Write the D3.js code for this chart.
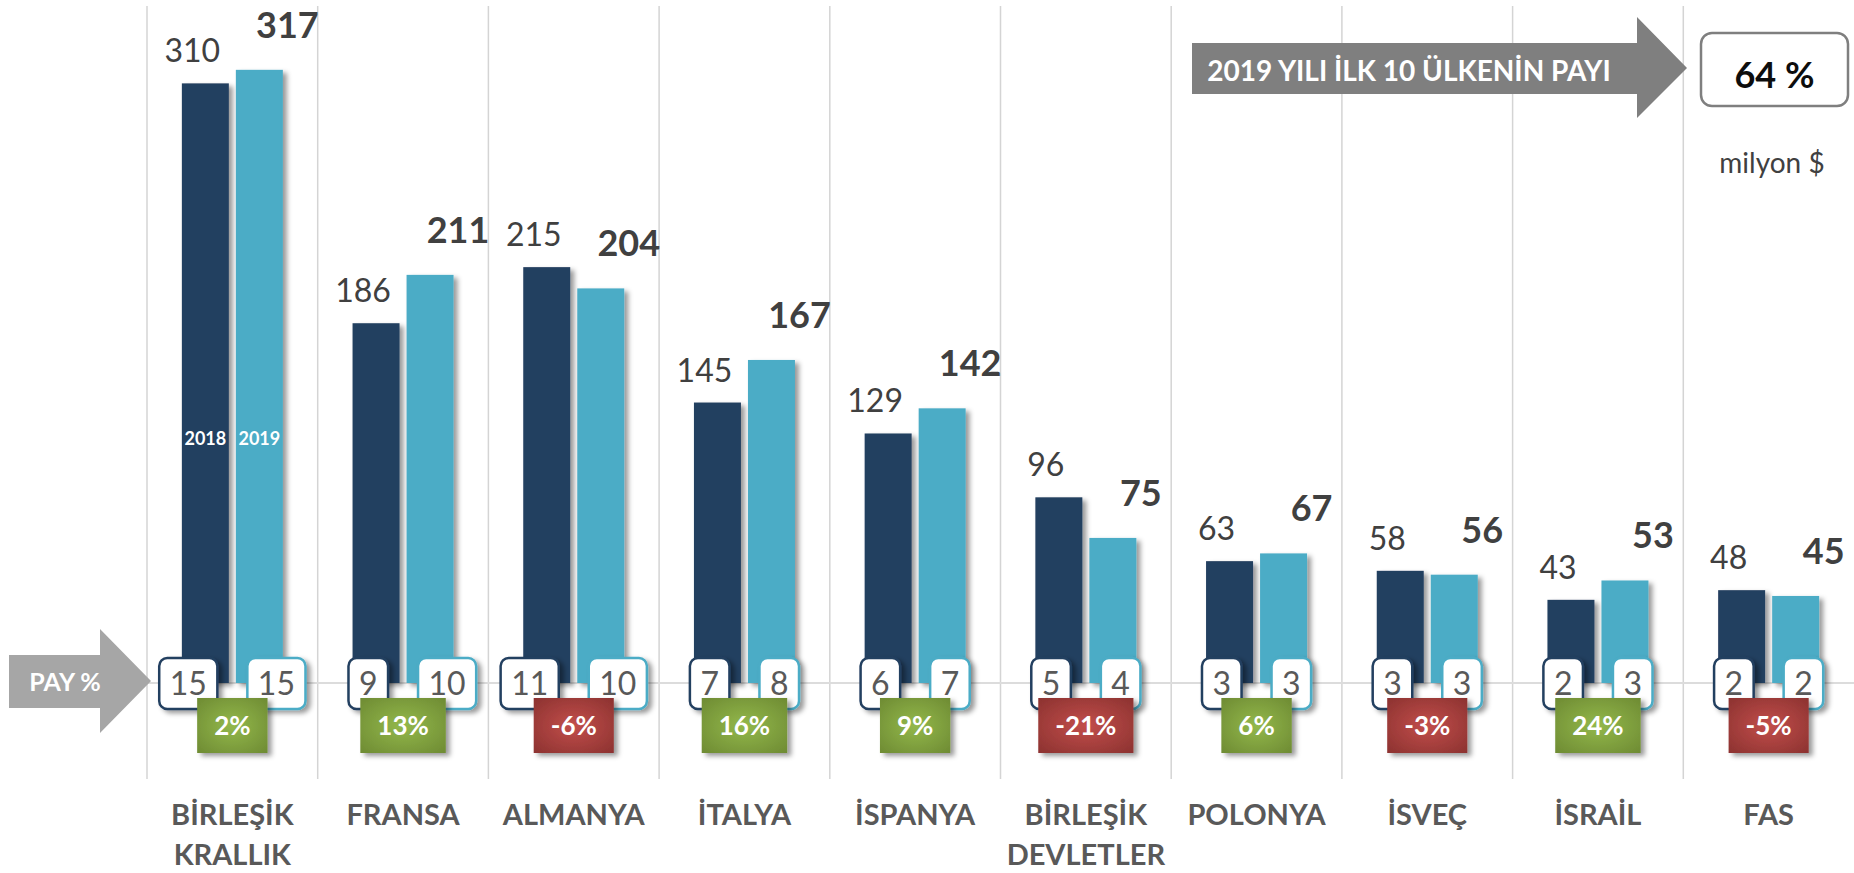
<!DOCTYPE html>
<html>
<head>
<meta charset="utf-8">
<script src="https://cdnjs.cloudflare.com/ajax/libs/d3/7.8.5/d3.min.js"></script>
<style>
body { margin: 0; background: #fff; }
svg text { font-family: Lato, "Open Sans", sans-serif; }
</style>
</head>
<body>
<div class="chart-output"></div>
<script>
// data (milyon $)
var countries = ["BİRLEŞİK\nKRALLIK", "FRANSA", "ALMANYA", "İTALYA", "İSPANYA",
                 "BİRLEŞİK\nDEVLETLER", "POLONYA", "İSVEÇ", "İSRAİL", "FAS"];
var years = ["2018", "2019"];
var values2018 = [310, 186, 215, 145, 129, 96, 63, 58, 43, 48];
var values2019 = [317, 211, 204, 167, 142, 75, 67, 56, 53, 45];
var share2018 = [15, 9, 11, 7, 6, 5, 3, 3, 2, 2];
var share2019 = [15, 10, 10, 8, 7, 4, 3, 3, 3, 2];
var change = [2, 13, -6, 16, 9, -21, 6, -3, 24, -5];
var top10Share = 64;
var titleText = "2019 YILI İLK 10 ÜLKENİN PAYI";
var shareLabel = "PAY %";
var unitLabel = "milyon $";

var colors = { "2018": "#243f60", "2019": "#4bacc6" };

var w = 1854;
var h = 873;

var rows = countries.map(function(c, i) {
    return { country: c, i: i, "2018": values2018[i], "2019": values2019[i],
             s2018: share2018[i], s2019: share2019[i], change: change[i] };
});

var svg = d3.select(".chart-output")
            .append("svg")
            .attr("width", w)
            .attr("height", h);

var defs = svg.append("defs");
var f = defs.append("filter").attr("id", "shadow")
    .attr("x", "-30%").attr("y", "-30%").attr("width", "160%").attr("height", "160%");
f.append("feDropShadow").attr("dx", 4).attr("dy", 3).attr("stdDeviation", 2.5)
    .attr("flood-color", "#000").attr("flood-opacity", 0.4);

function radial(id, inner, outer) {
    var g = defs.append("radialGradient").attr("id", id)
        .attr("cx", "50%").attr("cy", "50%").attr("r", "70%");
    g.append("stop").attr("offset", "0%").attr("stop-color", inner);
    g.append("stop").attr("offset", "100%").attr("stop-color", outer);
}
radial("green", "#93b84b", "#6e8b33");
radial("red", "#c24e4b", "#8c3230");

var x = d3.scaleBand().domain(countries).range([147, 1854]);
var xi = d3.scaleBand().domain(years).range([-50.5, 50.5]).paddingInner(0.13);
var y = d3.scaleLinear().domain([0, 350]).range([683, 6]);

function cx(d) { return x(d.country) + x.bandwidth() / 2; }

// vertical separators
svg.selectAll("line.grid")
    .data(countries)
    .enter()
    .append("line")
    .attr("class", "grid")
    .attr("x1", function(d) { return x(d); })
    .attr("x2", function(d) { return x(d); })
    .attr("y1", 6)
    .attr("y2", 779)
    .attr("stroke", "#d4d4d4")
    .attr("stroke-width", 1.5);

// baseline
svg.append("line")
    .attr("x1", 147).attr("x2", w)
    .attr("y1", y(0)).attr("y2", y(0))
    .attr("stroke", "#dcdcdc").attr("stroke-width", 2);

// bars
years.forEach(function(yr) {
    svg.selectAll("rect.bar" + yr)
        .data(rows)
        .enter()
        .append("rect")
        .attr("class", "bar" + yr)
        .attr("x", function(d) { return cx(d) + xi(yr); })
        .attr("y", function(d) { return y(d[yr]); })
        .attr("width", xi.bandwidth())
        .attr("height", function(d) { return y(0) - y(d[yr]); })
        .attr("fill", colors[yr])
        .attr("filter", "url(#shadow)");
});

// year names inside the first pair of bars
svg.selectAll("text.yr")
    .data(years)
    .enter()
    .append("text")
    .attr("x", function(d) { return cx(rows[0]) + xi(d) + xi.bandwidth() / 2; })
    .attr("y", 445)
    .attr("text-anchor", "middle")
    .attr("fill", "#fff")
    .attr("font-weight", "bold")
    .attr("font-size", 18)
    .text(function(d) { return d; });

// value labels
svg.selectAll("text.v2018")
    .data(rows)
    .enter()
    .append("text")
    .attr("x", function(d) { return cx(d) - 40; })
    .attr("y", function(d) { return y(d["2018"]) - 21; })
    .attr("text-anchor", "middle")
    .attr("fill", "#404040")
    .attr("font-size", 32)
    .text(function(d) { return d["2018"]; });

svg.selectAll("text.v2019")
    .data(rows)
    .enter()
    .append("text")
    .attr("x", function(d) { return cx(d) + 55; })
    .attr("y", function(d) { return y(d["2019"]) - 32; })
    .attr("text-anchor", "middle")
    .attr("fill", "#404040")
    .attr("font-weight", "bold")
    .attr("font-size", 36)
    .text(function(d) { return d["2019"]; });

// share boxes on the baseline
function shareBox(d, val, stroke, left) {
    var g = svg.append("g");
    var t = g.append("text")
        .attr("y", y(0) + 12)
        .attr("text-anchor", "middle")
        .attr("fill", "#595959")
        .attr("font-size", 32)
        .text(val);
    var bw = t.node().getComputedTextLength() + 21;
    var x0 = left ? cx(d) - 15 - bw : cx(d) + 15;
    t.attr("x", x0 + bw / 2);
    g.insert("rect", "text")
        .attr("x", x0).attr("y", 658)
        .attr("width", bw).attr("height", 51)
        .attr("rx", 8)
        .attr("fill", "#fff")
        .attr("stroke", stroke)
        .attr("stroke-width", 2.5)
        .attr("filter", "url(#shadow)");
}
rows.forEach(function(d) {
    shareBox(d, d.s2018, colors["2018"], true);
    shareBox(d, d.s2019, colors["2019"], false);
});

// change boxes
rows.forEach(function(d) {
    var g = svg.append("g");
    var t = g.append("text")
        .attr("x", cx(d))
        .attr("y", 735)
        .attr("text-anchor", "middle")
        .attr("fill", "#fff")
        .attr("font-weight", "bold")
        .attr("font-size", 26)
        .text(d.change + "%");
    var bw = t.node().getComputedTextLength() + 34;
    g.insert("rect", "text")
        .attr("x", cx(d) - bw / 2).attr("y", 698)
        .attr("width", bw).attr("height", 55)
        .attr("fill", d.change >= 0 ? "url(#green)" : "url(#red)")
        .attr("filter", "url(#shadow)");
});

// category names
svg.selectAll("text.cat")
    .data(rows)
    .enter()
    .append("text")
    .attr("text-anchor", "middle")
    .attr("fill", "#595959")
    .attr("font-weight", "bold")
    .attr("font-size", 29)
    .each(function(d) {
        var el = d3.select(this);
        d.country.split("\n").forEach(function(line, k) {
            el.append("tspan")
                .attr("x", cx(d))
                .attr("y", 825 + k * 40)
                .text(line);
        });
    });

// PAY % arrow
svg.append("path")
    .attr("d", "M9,655 H100 V629 L151,681 L100,733 V708 H9 Z")
    .attr("fill", "#a6a6a6");
svg.append("text")
    .attr("x", 65).attr("y", 691)
    .attr("text-anchor", "middle")
    .attr("fill", "#fff")
    .attr("font-weight", "bold")
    .attr("font-size", 25)
    .text(shareLabel);

// title arrow
svg.append("path")
    .attr("d", "M1192,43 H1637 V17 L1687,68 L1637,118 V94 H1192 Z")
    .attr("fill", "#7f7f7f");
svg.append("text")
    .attr("x", 1409).attr("y", 81)
    .attr("text-anchor", "middle")
    .attr("fill", "#fff")
    .attr("font-weight", "bold")
    .attr("font-size", 28)
    .text(titleText);

svg.append("rect")
    .attr("x", 1701).attr("y", 33)
    .attr("width", 147).attr("height", 73)
    .attr("rx", 11)
    .attr("fill", "#fff")
    .attr("stroke", "#7f7f7f")
    .attr("stroke-width", 2.5);
svg.append("text")
    .attr("x", 1774.5).attr("y", 88)
    .attr("text-anchor", "middle")
    .attr("fill", "#0d0d0d")
    .attr("font-weight", "bold")
    .attr("font-size", 36)
    .text(top10Share + " %");

svg.append("text")
    .attr("x", 1772).attr("y", 173)
    .attr("text-anchor", "middle")
    .attr("fill", "#404040")
    .attr("font-size", 28)
    .text(unitLabel);
</script>
</body>
</html>
